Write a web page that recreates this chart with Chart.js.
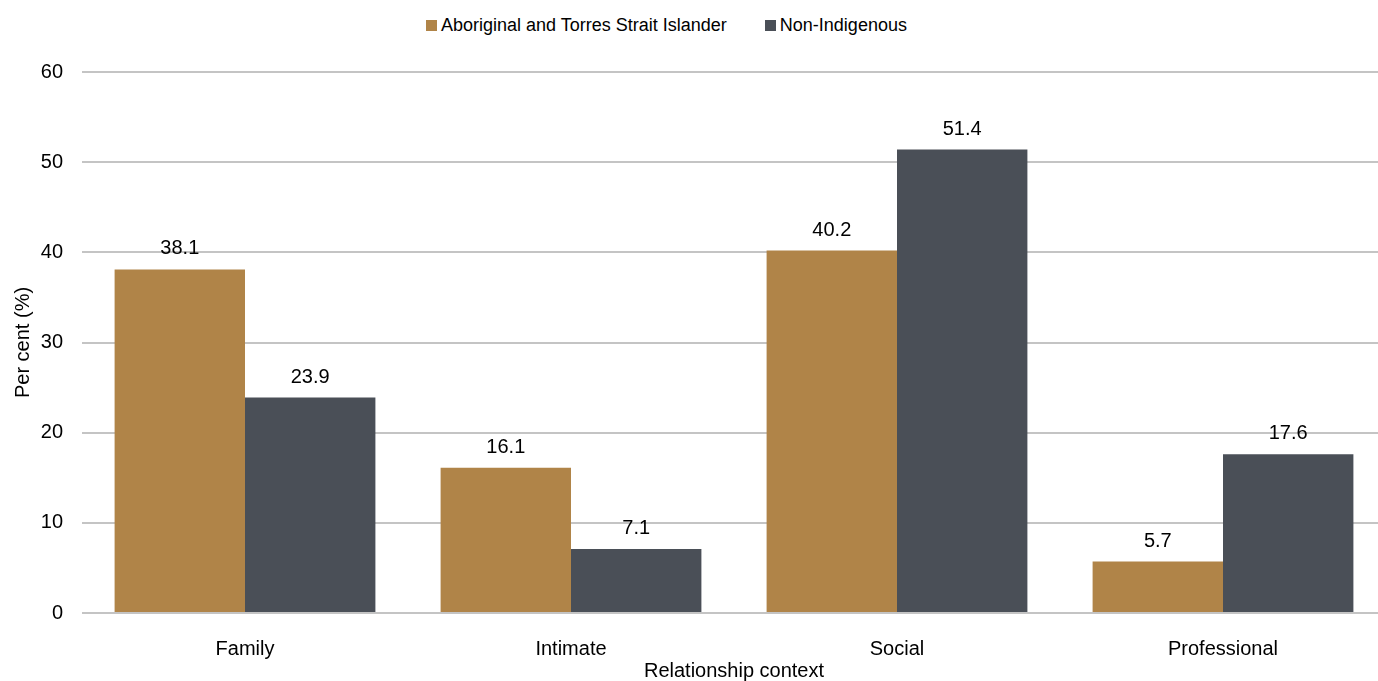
<!DOCTYPE html>
<html>
<head>
<meta charset="utf-8">
<script src="https://cdn.jsdelivr.net/npm/chart.js@4/dist/chart.umd.min.js"></script>
<style>
    html, body { margin: 0; padding: 0; background: #fff; overflow: hidden; }
    #wrap { position: relative; width: 1378px; height: 681px; overflow: hidden; }
    #relChart { position: absolute; left: 0; top: 0; }
    #legend { position: absolute; left: 426px; top: 15px; display: flex; font: 18px "Liberation Sans", Arial, sans-serif; color: #000; }
    #legend .item { display: flex; align-items: center; margin-right: 38px; }
    #legend .box { width: 11px; height: 11px; margin-right: 4px; }
</style>
</head>
<body>
<div id="wrap">
    <div id="legend"></div>
    <canvas id="relChart" width="1400" height="681"></canvas>
</div>
<script>
const categories = ['Family', 'Intimate', 'Social', 'Professional'];
const indigenousValues = [38.1, 16.1, 40.2, 5.7];
const nonIndigenousValues = [23.9, 7.1, 51.4, 17.6];
const yTicks = [0, 10, 20, 30, 40, 50, 60];

const FONT = '"Liberation Sans", Arial, sans-serif';

// value above each bar
const valueLabels = {
    id: 'valueLabels',
    afterDatasetsDraw(chart) {
        const ctx = chart.ctx;
        ctx.save();
        ctx.font = '20px ' + FONT;
        ctx.fillStyle = '#000';
        ctx.textAlign = 'center';
        ctx.textBaseline = 'alphabetic';
        chart.data.datasets.forEach((ds, i) => {
            chart.getDatasetMeta(i).data.forEach((bar, j) => {
                ctx.fillText(ds.data[j].toFixed(1), bar.x, bar.y - 15);
            });
        });
        ctx.restore();
    }
};

const chartInstance = new Chart(document.getElementById('relChart').getContext('2d'), {
    type: 'bar',
    data: {
        labels: categories,
        datasets: [
            { label: 'Aboriginal and Torres Strait Islander', data: indigenousValues, backgroundColor: '#B08448' },
            { label: 'Non-Indigenous', data: nonIndigenousValues, backgroundColor: '#4A4F57' }
        ]
    },
    options: {
        responsive: false,
        animation: false,
        layout: { padding: { top: 72, left: 0, right: 14, bottom: 0 } },
        datasets: { bar: { categoryPercentage: 0.8, barPercentage: 1.0 } },
        plugins: {
            legend: { display: false },
            tooltip: { enabled: false }
        },
        scales: {
            x: {
                grid: { display: false },
                border: { display: false },
                ticks: { color: '#000', font: { family: FONT, size: 20 }, padding: 16 },
                title: { display: true, text: 'Relationship context', color: '#000', font: { family: FONT, size: 20, lineHeight: 1 }, padding: 0 },
                afterFit(scale) { scale.height = 68; }
            },
            y: {
                min: 0,
                max: 60,
                afterBuildTicks(scale) { scale.ticks = yTicks.map(v => ({ value: v })); },
                grid: { color: '#C4C4C4', lineWidth: 2, drawTicks: false },
                border: { display: false },
                ticks: { color: '#000', font: { family: FONT, size: 20 }, padding: 19 },
                title: { display: true, text: 'Per cent (%)', color: '#000', font: { family: FONT, size: 20 }, padding: { top: 11, bottom: 0 } },
                afterFit(scale) { scale.width = 82; }
            }
        }
    },
    plugins: [valueLabels]
});

// legend built from the datasets
const legendEl = document.getElementById('legend');
chartInstance.data.datasets.forEach(ds => {
    const item = document.createElement('div');
    item.className = 'item';
    const box = document.createElement('span');
    box.className = 'box';
    box.style.background = ds.backgroundColor;
    const txt = document.createElement('span');
    txt.textContent = ds.label;
    item.appendChild(box);
    item.appendChild(txt);
    legendEl.appendChild(item);
});
</script>
</body>
</html>
